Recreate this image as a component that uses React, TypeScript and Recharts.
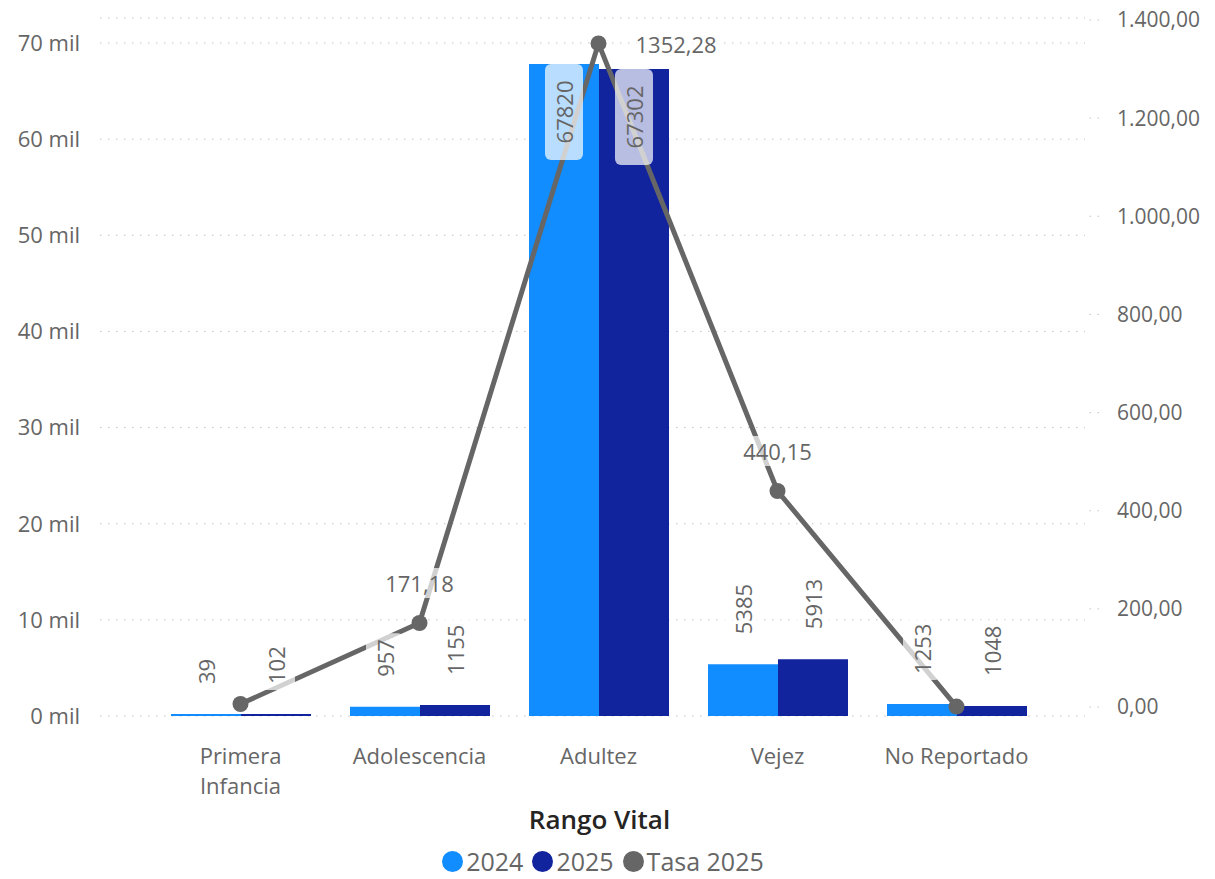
import {
    ComposedChart,
    Bar,
    Line,
    XAxis,
    YAxis,
    CartesianGrid,
    Legend,
    LabelList,
} from "recharts";

const FONT = "'Segoe UI', 'Open Sans', sans-serif";

const categories = ["Primera Infancia", "Adolescencia", "Adultez", "Vejez", "No Reportado"];
const values2024 = [39, 957, 67820, 5385, 1253];
const values2025 = [102, 1155, 67302, 5913, 1048];
const tasa2025 = [6.2, 171.18, 1352.28, 440.15, 0.9];
const tasaLabelShown = [false, true, true, true, false];

const leftTicks = [0, 10000, 20000, 30000, 40000, 50000, 60000, 70000];
const rightTicks = [0, 200, 400, 600, 800, 1000, 1200, 1400];

const legendItems = [
    { label: "2024", color: "#118DFF" },
    { label: "2025", color: "#12239E" },
    { label: "Tasa 2025", color: "#666666" },
];

const data = categories.map((name, i) => ({
    name,
    y2024: values2024[i],
    y2025: values2025[i],
    tasa: tasa2025[i],
}));

const fmtMil = (v: number) => `${v / 1000} mil`;
const fmtRight = (v: number) => {
    const [int, dec] = v.toFixed(2).split(".");
    return `${int.replace(/\B(?=(\d{3})+(?!\d))/g, ".")},${dec}`;
};
const fmtTasa = (v: number) => v.toFixed(2).replace(".", ",");

function BarLabel(props: any) {
    const vb = props.viewBox || props;
    const x = Number(vb.x), y = Number(vb.y), w = Number(vb.width), h = Number(vb.height);
    const cx = x + w / 2;
    const text = String(props.value);
    const len = text.length * 12.5;
    if (h > 200) {
        const boxH = 96;
        const cy = y + boxH / 2;
        return (
            <g>
                <rect x={cx - 19} y={y} width={38} height={boxH} rx={6} fill="#fff" fillOpacity={0.7} />
                <text x={cx} y={cy} transform={`rotate(-90 ${cx} ${cy})`} textAnchor="middle"
                    dominantBaseline="central" fontSize={22} fill="#666" fontFamily={FONT}>{text}</text>
            </g>
        );
    }
    const end = y - 30;
    return (
        <g>
            <rect x={cx - 19} y={end - len - 6} width={38} height={len + 12} rx={6} fill="#fff" fillOpacity={0.7} />
            <text x={cx} y={end} transform={`rotate(-90 ${cx} ${end})`} textAnchor="start"
                dominantBaseline="central" fontSize={22} fill="#666" fontFamily={FONT}>{text}</text>
        </g>
    );
}

function TasaLabel(props: any) {
    const { x, y, value, index } = props;
    if (!tasaLabelShown[index]) return null;
    const text = fmtTasa(Number(value));
    const len = text.length * 11.5;
    let tx = x, ty = y - 40, anchor = "middle";
    if (y - 40 < 20) {
        tx = x + 37;
        ty = y + 1;
        anchor = "start";
    }
    const bx = anchor === "middle" ? tx - len / 2 - 4 : tx - 4;
    return (
        <g>
            <rect x={bx} y={ty - 15} width={len + 8} height={30} rx={6} fill="#fff" fillOpacity={0.7} />
            <text x={tx} y={ty} textAnchor={anchor} dominantBaseline="central"
                fontSize={22} fill="#666" fontFamily={FONT}>{text}</text>
        </g>
    );
}

function CategoryTick(props: any) {
    const { x, y, payload } = props;
    const label: string = payload.value;
    const lines = label.length > 13 ? label.split(" ") : [label];
    return (
        <text x={x} y={y} textAnchor="middle" fontSize={22} fill="#666" fontFamily={FONT}>
            {lines.map((l, i) => (
                <tspan key={i} x={x} dy={i === 0 ? 40 : 30}>{l}</tspan>
            ))}
        </text>
    );
}

function LegendContent() {
    return (
        <div style={{ display: "flex", justifyContent: "center", alignItems: "center", height: 34, marginTop: 13, fontFamily: FONT, fontSize: 25, color: "#666", lineHeight: "34px", overflow: "visible" }}>
            {legendItems.map((it) => (
                <div key={it.label} style={{ display: "flex", alignItems: "center", marginRight: 9 }}>
                    <span style={{ width: 21, height: 21, borderRadius: 11, background: it.color, display: "inline-block", marginRight: 3 }} />
                    <span>{it.label}</span>
                </div>
            ))}
        </div>
    );
}

export default function App() {
    return (
        <div style={{ position: "absolute", left: 0, top: 0, background: "#fff" }}>
            <ComposedChart width={1215} height={879} data={data}
                margin={{ top: 18, right: 0, bottom: 0, left: 0 }}
                barGap={0} barCategoryGap={20}>
                <CartesianGrid yAxisId="left" vertical={false} stroke="#c4c4c4" strokeDasharray="1.5 6.5" />
                <XAxis dataKey="name" axisLine={false} tickLine={false} height={115}
                    padding={{ left: 51, right: 39 }} interval={0} tick={<CategoryTick />}
                    label={{ value: "Rango Vital", position: "insideBottom", offset: 2, dx: 7,
                        style: { fontFamily: FONT, fontSize: 26, fontWeight: 600, fill: "#252423" } }} />
                <YAxis yAxisId="left" orientation="left" width={100} domain={[0, 72600]} ticks={leftTicks}
                    tickFormatter={fmtMil} axisLine={false} tickLine={false} tickMargin={14}
                    tick={{ fontSize: 22, fill: "#666", fontFamily: FONT }} />
                <YAxis yAxisId="right" orientation="right" width={130} domain={[-18.3, 1404]} ticks={rightTicks}
                    tickFormatter={fmtRight} axisLine={false} tickSize={14} tickMargin={18}
                    tickLine={{ stroke: "#c4c4c4", strokeDasharray: "1.5 6.5" }}
                    tick={{ fontSize: 21, fill: "#666", fontFamily: FONT }} />
                <Bar yAxisId="left" dataKey="y2024" name="2024" fill="#118DFF" minPointSize={2} isAnimationActive={false}>
                    <LabelList dataKey="y2024" content={(p: any) => <BarLabel {...p} />} />
                </Bar>
                <Bar yAxisId="left" dataKey="y2025" name="2025" fill="#12239E" minPointSize={2} isAnimationActive={false}>
                    <LabelList dataKey="y2025" content={(p: any) => <BarLabel {...p} />} />
                </Bar>
                <Line yAxisId="right" dataKey="tasa" name="Tasa 2025" stroke="#666666" strokeWidth={5}
                    dot={{ r: 8, fill: "#666666", stroke: "none" }} activeDot={false} isAnimationActive={false}>
                    <LabelList dataKey="tasa" content={(p: any) => <TasaLabel {...p} />} />
                </Line>
                <Legend verticalAlign="bottom" height={48} content={() => <LegendContent />} />
            </ComposedChart>
        </div>
    );
}
